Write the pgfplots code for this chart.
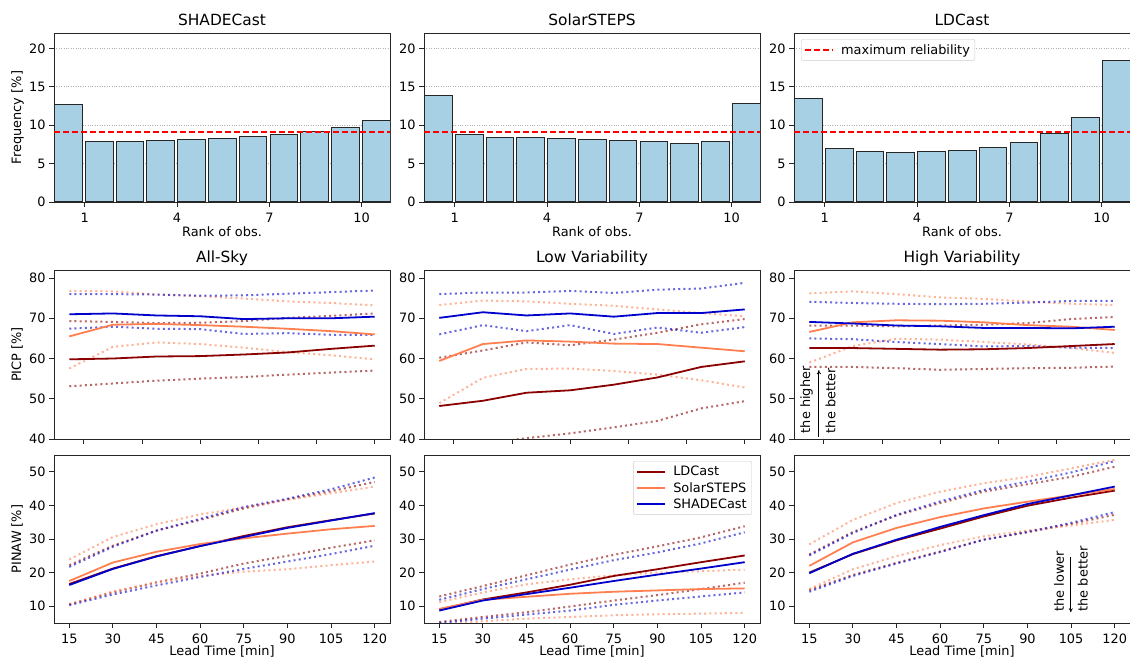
\documentclass[border=0pt]{standalone}
\usepackage{fontspec}
\setmainfont{DejaVu Sans}
\usepackage{pgfplots}
\usepackage{pgfplotstable}
\pgfplotsset{compat=1.18}
\usetikzlibrary{arrows.meta}
\definecolor{ldc}{RGB}{139,0,0}
\definecolor{sst}{RGB}{255,127,80}
\definecolor{shc}{RGB}{0,0,205}
\definecolor{barblue}{RGB}{168,208,228}
\newcommand\fs{\fontsize{12.9}{15.5}\selectfont}
\newcommand\fst{\fontsize{15.4}{18}\selectfont}

\pgfplotsset{
  base/.style={scale only axis, width=336pt, height=169pt, anchor=south west,
    axis line style={black!85, line width=0.9pt},
    tick pos=left, tick align=outside, major tick length=5pt,
    tick style={black!85, line width=0.9pt},
    tick label style={font=\fs},
    /pgf/number format/assume math mode=true,
    every axis title shift=0pt,
    title style={font=\fst, at={(axis description cs:0.5,1.047)}, anchor=base},
    every axis y label/.style={at={(axis description cs:-0.098,0.5)}, rotate=90, anchor=base, font=\fs},
    xticklabel style={anchor=base, yshift=-16pt},
  },
  rankax/.style={base, xmin=0, xmax=10.92, ymin=0, ymax=22,
    xtick={1,4,7,10}, ytick={0,5,10,15,20},
    ymajorgrids, grid style={dotted, black!30, line width=0.8pt},
    xlabel={Rank of obs.},
    every axis x label/.style={at={(axis description cs:0.5,-0.207)}, anchor=base, font=\fs},
  },
  picpax/.style={base, xmin=9.75, xmax=125.25, ymin=40, ymax=82,
    xtick={20,40,...,120}, xticklabels={}, ytick={40,50,...,80}},
  pinawax/.style={base, height=168pt, xmin=9.75, xmax=125.25, ymin=5, ymax=55,
    xtick={15,30,...,120}, ytick={10,20,...,50},
    xlabel={Lead Time [min]},
    every axis x label/.style={at={(axis description cs:0.5,-0.196)}, anchor=base, font=\fs},
  },
  hbar/.style={ybar, bar width=0.9, bar shift=0pt, fill=barblue, draw=black!85, line width=1pt},
  redline/.style={red, line width=1.8pt, dash pattern=on 6pt off 3pt},
  mL/.style={color=ldc, line width=1.8pt},
  mS/.style={color=sst, line width=1.8pt},
  mH/.style={color=shc, line width=1.8pt},
  dd/.style={line width=2pt, dash pattern=on 2pt off 3.2pt, opacity=0.6, forget plot},
  leg/.style={legend cell align=left,
    legend image code/.code={\draw[##1, line width=2pt] (0pt,0pt) -- (28pt,0pt); \path (33pt,0pt);},
    legend style={font=\fs, draw=black!20, rounded corners=2pt,
      fill=white, fill opacity=0.8, text opacity=1, inner sep=3pt, row sep=1pt}},
}

\newcommand\panel[1]{%
  \addplot[dd, ldc] table[x=t, y=Llo] {#1};
  \addplot[dd, ldc] table[x=t, y=Lhi] {#1};
  \addplot[dd, sst] table[x=t, y=Slo] {#1};
  \addplot[dd, sst] table[x=t, y=Shi] {#1};
  \addplot[dd, shc] table[x=t, y=Hlo] {#1};
  \addplot[dd, shc] table[x=t, y=Hhi] {#1};
  \addplot[mL] table[x=t, y=Lm] {#1};
  \addplot[mS] table[x=t, y=Sm] {#1};
  \addplot[mH] table[x=t, y=Hm] {#1};
}

% PICP tables
\pgfplotstableread{
t   Lm   Llo  Lhi  Sm   Slo  Shi  Hm   Hlo  Hhi
15  59.8 53.1 69.3 65.5 57.5 76.8 71.0 67.4 76.0
30  60.0 53.8 69.1 68.4 62.9 76.7 71.2 67.9 76.0
45  60.5 54.5 68.8 68.6 64.0 75.9 70.7 67.4 75.9
60  60.6 55.0 68.9 68.3 63.6 75.5 70.5 67.3 75.6
75  61.0 55.4 69.3 67.9 62.7 74.9 69.8 66.1 75.7
90  61.5 56.0 70.1 67.4 61.6 74.2 70.0 66.3 76.1
105 62.4 56.5 70.6 66.8 60.8 73.8 70.0 65.9 76.5
120 63.2 57.0 71.2 66.0 59.8 73.2 70.4 65.9 76.9
}\picpAll
\pgfplotstableread{
t   Lm   Llo  Lhi  Sm   Slo  Shi  Hm   Hlo  Hhi
15  48.2 37.5 60.2 59.4 48.9 73.3 70.1 66.0 76.0
30  49.5 38.9 62.0 63.6 55.2 74.4 71.5 68.3 76.4
45  51.5 40.2 64.0 64.5 57.4 74.2 70.7 66.8 76.4
60  52.1 41.4 63.3 64.2 57.5 73.6 71.2 68.3 76.8
75  53.5 42.9 64.7 63.7 56.9 73.1 70.4 66.1 76.3
90  55.3 44.5 66.4 63.6 56.0 72.2 71.3 67.7 77.1
105 57.9 47.6 68.5 62.7 54.6 71.3 71.3 66.4 77.4
120 59.3 49.4 69.8 61.8 52.8 70.5 72.2 67.8 78.8
}\picpLow
\pgfplotstableread{
t   Lm   Llo  Lhi  Sm   Slo  Shi  Hm   Hlo  Hhi
15  62.6 57.9 68.2 66.6 59.0 76.2 69.1 65.0 74.1
30  62.6 57.9 68.2 69.0 63.1 76.7 68.7 64.8 73.8
45  62.4 57.6 68.0 69.5 64.9 76.0 68.2 64.1 73.6
60  62.2 57.2 68.2 69.4 64.7 75.2 68.0 63.6 73.5
75  62.3 57.4 68.4 69.0 64.1 74.8 67.6 63.0 73.6
90  62.6 57.6 68.8 68.3 63.5 74.2 67.6 63.1 73.9
105 63.1 57.7 69.8 67.9 62.6 73.6 67.5 62.7 74.3
120 63.6 58.0 70.3 67.1 61.4 73.3 67.9 62.6 74.3
}\picpHigh
% PINAW tables
\pgfplotstableread{
t   Lm   Llo  Lhi  Sm   Slo  Shi  Hm   Hlo  Hhi
15  16.6 10.6 22.2 17.5 10.5 23.9 16.3 10.3 21.7
30  21.2 14.1 28.0 23.0 14.4 30.6 21.1 13.5 27.7
45  24.9 17.1 32.5 26.2 17.1 34.4 24.8 16.2 32.5
60  27.9 19.7 35.7 28.5 19.0 37.3 27.9 18.7 36.0
75  30.9 22.7 39.1 30.2 20.3 39.4 30.6 21.1 39.5
90  33.5 25.0 41.8 31.6 21.0 41.7 33.3 23.3 42.0
105 35.6 27.4 44.2 32.9 22.2 43.6 35.5 25.5 44.8
120 37.6 29.6 47.0 33.9 23.3 45.6 37.7 28.0 48.3
}\pinawAll
\pgfplotstableread{
t   Lm   Llo  Lhi  Sm   Slo  Shi  Hm   Hlo  Hhi
15  9.0  5.3  12.9 9.2  4.5  11.2 8.7  5.0  11.9
30  12.0 6.8  16.0 11.9 5.5  14.1 11.7 6.3  15.1
45  14.1 8.2  19.2 12.8 6.3  16.5 13.6 7.5  18.0
60  16.4 9.9  22.4 13.7 6.8  18.0 15.5 8.7  20.9
75  19.0 11.7 25.3 14.3 7.3  19.2 17.5 10.4 23.7
90  21.0 13.3 27.8 14.7 7.6  20.0 19.4 11.7 26.0
105 23.1 15.1 30.5 15.1 7.8  20.4 21.2 12.9 28.7
120 25.1 17.0 33.8 15.3 8.0  20.9 23.1 14.1 32.0
}\pinawLow
\pgfplotstableread{
t   Lm   Llo  Lhi  Sm   Slo  Shi  Hm   Hlo  Hhi
15  20.0 14.8 25.4 22.0 15.1 28.4 19.8 14.3 25.1
30  25.5 19.3 32.1 29.0 21.0 35.7 25.6 19.0 31.8
45  29.6 22.9 37.0 33.3 24.9 40.7 29.8 22.7 37.2
60  33.1 26.3 40.7 36.5 28.2 44.1 33.6 26.1 41.2
75  36.7 29.8 44.1 39.1 30.8 46.6 37.1 29.8 44.6
90  39.9 32.0 46.3 41.1 32.5 48.5 40.4 32.1 47.1
105 42.3 34.5 48.5 43.0 34.0 51.0 43.0 34.8 49.8
120 44.4 37.2 51.5 44.9 35.7 53.6 45.6 38.0 53.2
}\pinawHigh

\begin{document}
\begin{tikzpicture}[x=1pt,y=1pt]
\useasboundingbox (0,0) rectangle (1130,663);
% ---------- Row 1: rank histograms ----------
\begin{axis}[rankax, at={(54pt,461pt)}, title={SHADECast}, ylabel={Frequency [\%]}]
\addplot[hbar] coordinates {(0.47,12.68) (1.47,7.88) (2.47,7.92) (3.47,8.00) (4.47,8.10) (5.47,8.27) (6.47,8.53) (7.47,8.83) (8.47,9.18) (9.47,9.65) (10.47,10.65)};
\addplot[redline] coordinates {(0,9.0909) (10.92,9.0909)};
\end{axis}
\begin{axis}[rankax, at={(424pt,461pt)}, title={SolarSTEPS}]
\addplot[hbar] coordinates {(0.47,13.85) (1.47,8.74) (2.47,8.44) (3.47,8.44) (4.47,8.27) (5.47,8.10) (6.47,8.00) (7.47,7.84) (8.47,7.66) (9.47,7.88) (10.47,12.77)};
\addplot[redline] coordinates {(0,9.0909) (10.92,9.0909)};
\end{axis}
\begin{axis}[rankax, at={(794pt,461pt)}, title={LDCast}, leg,
  legend style={at={(axis description cs:0.021,0.964)}, anchor=north west}]
\addplot[hbar, forget plot] coordinates {(0.47,13.46) (1.47,6.97) (2.47,6.58) (3.47,6.49) (4.47,6.54) (5.47,6.75) (6.47,7.10) (7.47,7.75) (8.47,8.87) (9.47,10.99) (10.47,18.48)};
\addplot[redline] coordinates {(0,9.0909) (10.92,9.0909)};
\addlegendentry{maximum reliability}
\end{axis}
% ---------- Row 2: PICP ----------
\begin{axis}[picpax, at={(54pt,224pt)}, title={All-Sky}, ylabel={PICP [\%]}]
\panel{\picpAll}
\end{axis}
\begin{axis}[picpax, at={(424pt,224pt)}, title={Low Variability}]
\panel{\picpLow}
\end{axis}
\begin{axis}[picpax, at={(794pt,224pt)}, title={High Variability}]
\panel{\picpHigh}
\draw[-{To[length=4pt,width=4pt]}, line width=0.8pt] (axis cs:18.3,40.5) -- (axis cs:18.3,57.1);
\node[rotate=90, anchor=west, inner sep=0pt, font=\fs] at (axis cs:14.1,41.4) {the higher};
\node[rotate=90, anchor=west, inner sep=0pt, font=\fs] at (axis cs:22.3,41.4) {the better};
\end{axis}
% ---------- Row 3: PINAW ----------
\begin{axis}[pinawax, at={(54pt,40pt)}, ylabel={PINAW [\%]}]
\panel{\pinawAll}
\end{axis}
\begin{axis}[pinawax, at={(424pt,40pt)}, leg,
  legend style={at={(axis description cs:0.976,0.964)}, anchor=north east}]
\panel{\pinawLow}
\legend{LDCast, SolarSTEPS, SHADECast}
\end{axis}
\begin{axis}[pinawax, at={(794pt,40pt)}]
\panel{\pinawHigh}
\draw[-{To[length=4pt,width=4pt]}, line width=0.8pt] (axis cs:104.9,24.5) -- (axis cs:104.9,8.2);
\node[rotate=90, anchor=west, inner sep=0pt, font=\fs] at (axis cs:100.9,8.4) {the lower};
\node[rotate=90, anchor=west, inner sep=0pt, font=\fs] at (axis cs:109.0,8.4) {the better};
\end{axis}
\end{tikzpicture}
\end{document}
